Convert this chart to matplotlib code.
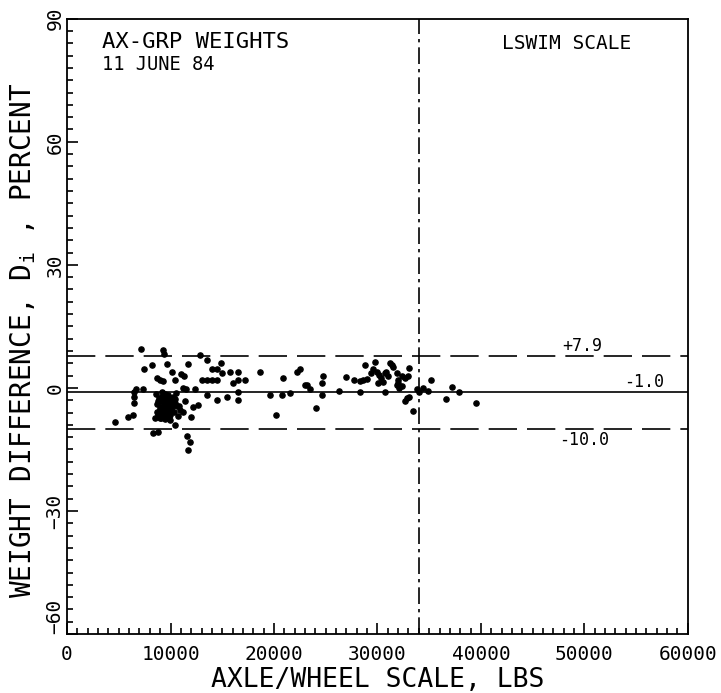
import numpy as np
import matplotlib
matplotlib.use("Agg")
import matplotlib.pyplot as plt
from matplotlib.ticker import MultipleLocator

plt.rcParams["font.family"] = ["DejaVu Sans Mono", "DejaVu Sans"]

# axle/wheel scale weight (lbs) and weight difference D_i (percent)
axle_lbs = [
    4640, 5920, 6400, 6470, 6470, 6470, 6700, 7370, 7150, 7440, 8210,
    8660, 8980, 9310, 9300, 9400, 9690, 10110, 10430, 10980, 11300, 11660,
    11200, 11500, 12360, 13490, 12850, 13980, 14460, 13000, 13490, 13980,
    14460, 14850, 15010, 15740, 16540, 16060, 16540, 17190, 16540, 16540,
    15420, 14460, 13490, 12690, 12200, 11980, 10910, 11240, 11400, 9950,
    10430, 8500, 9000, 8340, 8820, 11560, 11880, 11720, 18640, 20180,
    19600, 20730, 21540, 20900, 22180, 22500, 23150, 22990, 23470, 24600,
    24760, 24600, 24060,
    # dense cluster near 9-11 kips
    8600, 8700, 8800, 8900, 9000, 9050, 9100, 9150, 9200, 9250, 9300,
    9350, 9400, 9450, 9500, 9550, 9600, 9650, 9700, 9750, 9800, 9850,
    9900, 9950, 10000, 10050, 10100, 10200, 10300, 10400, 10500, 10600,
    8750, 8950, 9150, 9350, 9550, 9750, 9950, 10150, 9100, 9500, 9900,
    10300, 8650, 9250, 9650, 10050, 10450, 10700, 10850,
    # 28-40 kips group
    27730, 28300, 28630, 28950, 28300, 28790, 29750, 29340, 29980, 30150,
    30300, 30100, 31200, 31360, 30700, 30870, 31040, 30690, 31850, 31950,
    31900, 32100, 32330, 32650, 32970, 33070, 32000, 32650, 32870, 33070,
    33460, 33780, 34040, 34420, 34900, 35160, 36610, 37250, 37900, 39510,
    29600, 30500, 31500, 32400, 27000, 26300,
]
diff_pct = [
    -8.2, -7.1, -6.6, -3.7, -2.1, -0.9, -0.3, -0.3, 9.4, 4.6, 5.6,
    2.4, 2.0, 1.6, 9.2, 8.2, 5.8, 4.0, 2.0, 3.5, 2.9, 5.8,
    0.0, -0.3, -0.3, 6.7, 8.1, 4.6, 4.6, 2.0, 2.0, 2.0,
    2.0, 6.1, 3.6, 3.9, 4.0, 1.1, 2.0, 2.0, -0.9, -2.9,
    -2.1, -2.9, -1.7, -4.1, -4.6, -7.1, -5.4, -5.8, -3.3, -7.8,
    -9.0, -7.4, -7.4, -11.1, -10.7, -11.7, -13.1, -15.1, 3.8, -6.6,
    -1.7, -1.7, -1.2, 2.5, 3.9, 4.5, 0.7, 0.6, -0.3, -1.7,
    2.9, 1.3, -4.9,
    -1.5, -4.0, -6.5, -2.5, -5.0, -3.0, -7.0, -1.0, -4.5, -6.0, -2.0,
    -5.5, -3.5, -7.5, -1.5, -4.8, -2.8, -6.2, -3.8, -5.2, -1.8, -4.2,
    -6.8, -2.6, -5.6, -3.2, -4.6, -2.2, -5.8, -3.6, -1.2, -4.4,
    -3.3, -5.3, -2.3, -6.3, -4.3, -3.0, -6.6, -4.0, -7.3, -2.4, -5.0,
    -3.9, -5.9, -3.1, -1.9, -4.1, -2.7, -6.9, -4.5,
    2.0, 1.7, 2.0, 2.1, -0.9, 5.6, 6.3, 3.6, 3.8, 3.2,
    2.4, 1.1, 6.0, 5.6, 3.6, 4.0, 2.8, -0.9, 3.6, 2.0,
    0.7, -0.1, 2.8, 2.4, 2.8, 4.8, 1.1, -3.3, -2.5, -2.1,
    -5.5, -0.3, -0.9, 0.0, -0.7, 1.9, -2.8, 0.3, -1.1, -3.7,
    4.6, 1.5, 5.0, 0.5, 2.6, -0.8,
]

upper_limit = 7.9
mean_diff = -1.0
lower_limit = -10.0
lswim_lbs = 34000
y_ticks = [-60, -30, 0, 30, 60, 90]

fig = plt.figure(figsize=(7.21, 6.93), dpi=100)
ax = fig.add_axes([0.093, 0.085, 0.861, 0.888])

ax.scatter(axle_lbs, diff_pct, s=14, color="black", zorder=3)
ax.axhline(upper_limit, color="black", lw=1.2, dashes=(17, 6))
ax.axhline(lower_limit, color="black", lw=1.2, dashes=(17, 6))
ax.axhline(mean_diff, color="black", lw=1.2)
ax.axvline(lswim_lbs, color="black", lw=1.2, dashes=(10, 3, 2, 3))

ax.set_xlim(0, 60000)
ax.set_ylim(-60, 90)
ax.xaxis.set_major_locator(MultipleLocator(10000))
ax.xaxis.set_minor_locator(MultipleLocator(1000))
ax.set_yticks(y_ticks)
ax.yaxis.set_minor_locator(MultipleLocator(3))
ax.tick_params(which="both", direction="in", top=False, right=False,
               width=1.2, labelsize=14)
ax.tick_params(which="major", length=8)
ax.tick_params(which="minor", length=4)
ax.tick_params(axis="x", pad=8)
ax.tick_params(axis="y", pad=2)
ylabels = ax.get_yticklabels()
for lab in ylabels:
    lab.set_rotation(90)
    lab.set_va("center")
# lowest y label sits above the corner, as in the original plot
ylabels[0].set_va("bottom")
for sp in ax.spines.values():
    sp.set_linewidth(1.3)

ax.set_xlabel("AXLE/WHEEL SCALE, LBS", fontsize=19)
ax.xaxis.set_label_coords(0.5, -0.054)
ax.set_ylabel(r"WEIGHT DIFFERENCE, $\mathregular{D_i}$ , PERCENT",
              fontsize=20)
ax.yaxis.set_label_coords(-0.047, 0.478)

ax.text(3400, 84.4, "AX-GRP WEIGHTS", fontsize=16, va="center")
ax.text(3400, 78.9, "11 JUNE 84", fontsize=13.5, va="center")
ax.text(48300, 84, "LSWIM SCALE", fontsize=14, va="center", ha="center")
ax.text(49800, 10.3, "+7.9", fontsize=12, va="center", ha="center")
ax.text(55800, 1.4, "-1.0", fontsize=12, va="center", ha="center")
ax.text(50000, -12.7, "-10.0", fontsize=12, va="center", ha="center")

fig.savefig("out.png", dpi=100)
